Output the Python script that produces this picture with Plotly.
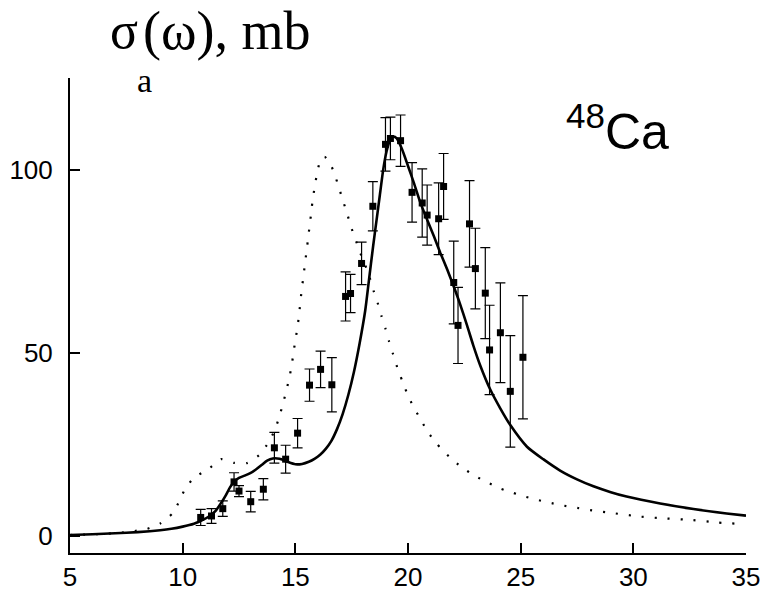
import plotly.graph_objects as go

# experimental points
exp_x = [10.80, 11.28, 11.78, 12.28, 12.50, 13.02, 13.58, 14.07, 14.57, 15.10,
         15.63, 16.12, 16.62, 17.23, 17.45, 17.94, 18.44, 19.00, 19.22, 19.67,
         20.18, 20.63, 20.85, 21.36, 21.58, 22.03, 22.22, 22.73, 22.99, 23.43,
         23.62, 24.10, 24.54, 25.10]
exp_y = [5.1, 5.5, 7.5, 14.8, 12.3, 9.4, 12.8, 24.1, 21.0, 28.1,
         41.2, 45.5, 41.3, 65.4, 66.2, 74.4, 90.0, 106.9, 108.5, 107.9,
         93.8, 90.9, 87.6, 86.6, 95.4, 69.2, 57.5, 85.2, 73.0, 66.3,
         50.8, 55.5, 39.5, 48.8]
exp_err = [2.2, 2.0, 2.1, 2.5, 1.5, 2.8, 2.9, 4.2, 3.8, 4.0,
           4.4, 5.0, 7.4, 6.7, 5.2, 5.8, 6.7, 7.3, 5.8, 7.0,
           8.1, 9.3, 8.2, 9.8, 9.0, 11.3, 10.4, 11.8, 11.0, 12.4,
           12.2, 13.6, 15.2, 16.8]

# solid theoretical curve
solid_x = [5.0, 6.0, 7.0, 8.0, 9.0, 9.5, 10.0, 10.5, 10.85, 11.2, 11.45, 11.7, 11.9,
           12.1, 12.3, 12.5, 12.75, 13.0, 13.25, 13.5, 13.75, 14.0, 14.3, 14.64, 15.0,
           15.3, 15.6, 15.85, 16.1, 16.35, 16.6, 16.85, 17.1, 17.35, 17.6, 17.85, 18.1,
           18.27, 18.45, 18.6, 18.75, 18.9, 19.05, 19.2, 19.35, 19.5, 19.74, 20.0,
           20.26, 20.55, 20.85, 21.15, 21.44, 21.75, 22.03, 22.3, 22.62, 22.9, 23.21,
           23.65, 24.1, 24.54, 25.28, 26.0, 26.75, 27.5, 28.23, 29.0, 29.7, 31.19,
           32.67, 34.14, 35.0]
solid_y = [0.3, 0.5, 0.8, 1.1, 1.6, 2.0, 2.6, 3.4, 4.3, 5.5, 6.8, 9.0, 11.0,
           13.3, 15.0, 15.9, 16.5, 17.2, 18.2, 19.4, 20.6, 21.2, 21.1, 20.3, 19.6,
           19.7, 20.3, 21.1, 22.2, 23.8, 26.0, 29.2, 33.3, 38.5, 44.8, 52.5, 61.5,
           70.0, 79.0, 86.0, 93.0, 100.0, 105.0, 108.0, 109.0, 108.5, 105.5, 101.0,
           96.4, 91.0, 86.3, 81.8, 77.2, 72.6, 68.1, 63.5, 57.5, 52.0, 46.5,
           40.0, 34.8, 30.3, 24.4, 21.0, 17.9, 15.5, 13.6, 12.0, 10.8, 8.9,
           7.4, 6.2, 5.6]

# dotted theoretical curve
dot_x = [5.0, 6.0, 6.7, 7.3, 7.87, 8.43, 8.99, 9.55, 9.87, 10.14, 10.56, 11.13, 11.7,
         12.27, 12.83, 13.39, 13.82, 14.1, 14.29, 14.45, 14.6, 14.73, 14.84, 14.92,
         15.01, 15.1, 15.17, 15.23, 15.29, 15.37, 15.43, 15.51, 15.57, 15.65, 15.71,
         15.78, 15.87, 15.97, 16.12, 16.3, 16.52, 16.75, 16.93, 17.11, 17.29, 17.46,
         17.66, 17.86, 18.1, 18.3, 18.47, 18.65, 18.82, 19.0, 19.16, 19.34, 19.52,
         19.73, 19.95, 20.22, 20.53, 20.86, 21.29, 21.82, 22.38, 22.96, 23.54, 24.1,
         24.66, 25.24, 25.8, 26.37, 26.93, 27.51, 28.08, 29.2, 30.34, 31.48, 32.62,
         33.76, 34.9]
dot_y = [0.3, 0.5, 0.7, 1.0, 1.4, 2.0, 3.4, 6.2, 9.8, 13.3, 16.2, 18.2, 21.0,
         20.0, 19.9, 22.1, 25.6, 29.1, 32.6, 36.1, 39.7, 43.1, 46.6, 50.2,
         53.7, 57.2, 60.7, 64.2, 67.7, 71.2, 74.7, 78.1, 81.7, 85.2, 88.7,
         92.2, 95.7, 99.2, 102.7, 103.5, 102.1, 98.6, 95.2, 91.6, 88.2, 84.6,
         81.1, 77.6, 74.0, 70.5, 67.0, 63.7, 60.1, 56.6, 53.1, 49.6, 46.1,
         42.6, 39.1, 35.5, 32.2, 28.6, 25.1, 21.7, 18.8, 16.5, 14.6, 13.0,
         11.8, 10.7, 9.8, 9.0, 8.3, 7.7, 7.1, 6.2, 5.3, 4.8, 4.4,
         3.7, 3.3]

x_ticks = [5, 10, 15, 20, 25, 30, 35]
y_ticks = [0, 50, 100]

fig = go.Figure()
fig.add_trace(go.Scatter(x=dot_x, y=dot_y, mode='lines',
                         line=dict(color='black', width=2.2, dash='2px,11px', shape='spline', smoothing=0.5),
                         showlegend=False, hoverinfo='skip'))
fig.add_trace(go.Scatter(x=solid_x, y=solid_y, mode='lines',
                         line=dict(color='black', width=2.6, shape='spline', smoothing=0.6),
                         showlegend=False))
fig.add_trace(go.Scatter(x=exp_x, y=exp_y, mode='markers',
                         marker=dict(symbol='square', size=7, color='black'),
                         error_y=dict(type='data', array=exp_err, color='black', thickness=1.2, width=5),
                         showlegend=False))

L, R, T, B = 69.5, 20, 78, 43
W, H = 766, 596
pw, ph = W - L - R, H - T - B

def px(xp):
    return (xp - L) / pw

def py(yp):
    return (H - B - yp) / ph

serif = dict(family='Liberation Serif', color='black')
fig.add_annotation(xref='paper', yref='paper', x=px(108), y=py(31),
                   xanchor='left', yanchor='middle', showarrow=False,
                   text='σ', font=dict(size=52, **serif))
fig.add_annotation(xref='paper', yref='paper', x=px(144), y=py(81),
                   xanchor='center', yanchor='middle', showarrow=False,
                   text='a', font=dict(size=34, **serif))
fig.add_annotation(xref='paper', yref='paper', x=px(141), y=py(31),
                   xanchor='left', yanchor='middle', showarrow=False,
                   text='(ω), mb', font=dict(size=54, **serif))
fig.add_annotation(xref='paper', yref='paper', x=px(564), y=py(128),
                   xanchor='left', yanchor='middle', showarrow=False,
                   text='<sup>48</sup>Ca',
                   font=dict(family='Liberation Sans', size=50, color='black'))

axis_common = dict(showline=True, linecolor='black', linewidth=2, ticks='inside',
                   ticklen=10, tickwidth=1.5, tickcolor='black', showgrid=False,
                   zeroline=False, automargin=False,
                   tickfont=dict(family='Liberation Sans', size=26, color='black'))

fig.update_xaxes(range=[5, 35], tickvals=x_ticks, ticklabelstandoff=0, **axis_common)
fig.update_yaxes(range=[-4.6, 125], tickvals=y_ticks, ticklabelstandoff=10, **axis_common)

fig.update_layout(width=W, height=H, margin=dict(l=L, r=R, t=T, b=B),
                  plot_bgcolor='white', paper_bgcolor='white')

fig.write_html('out.html')
